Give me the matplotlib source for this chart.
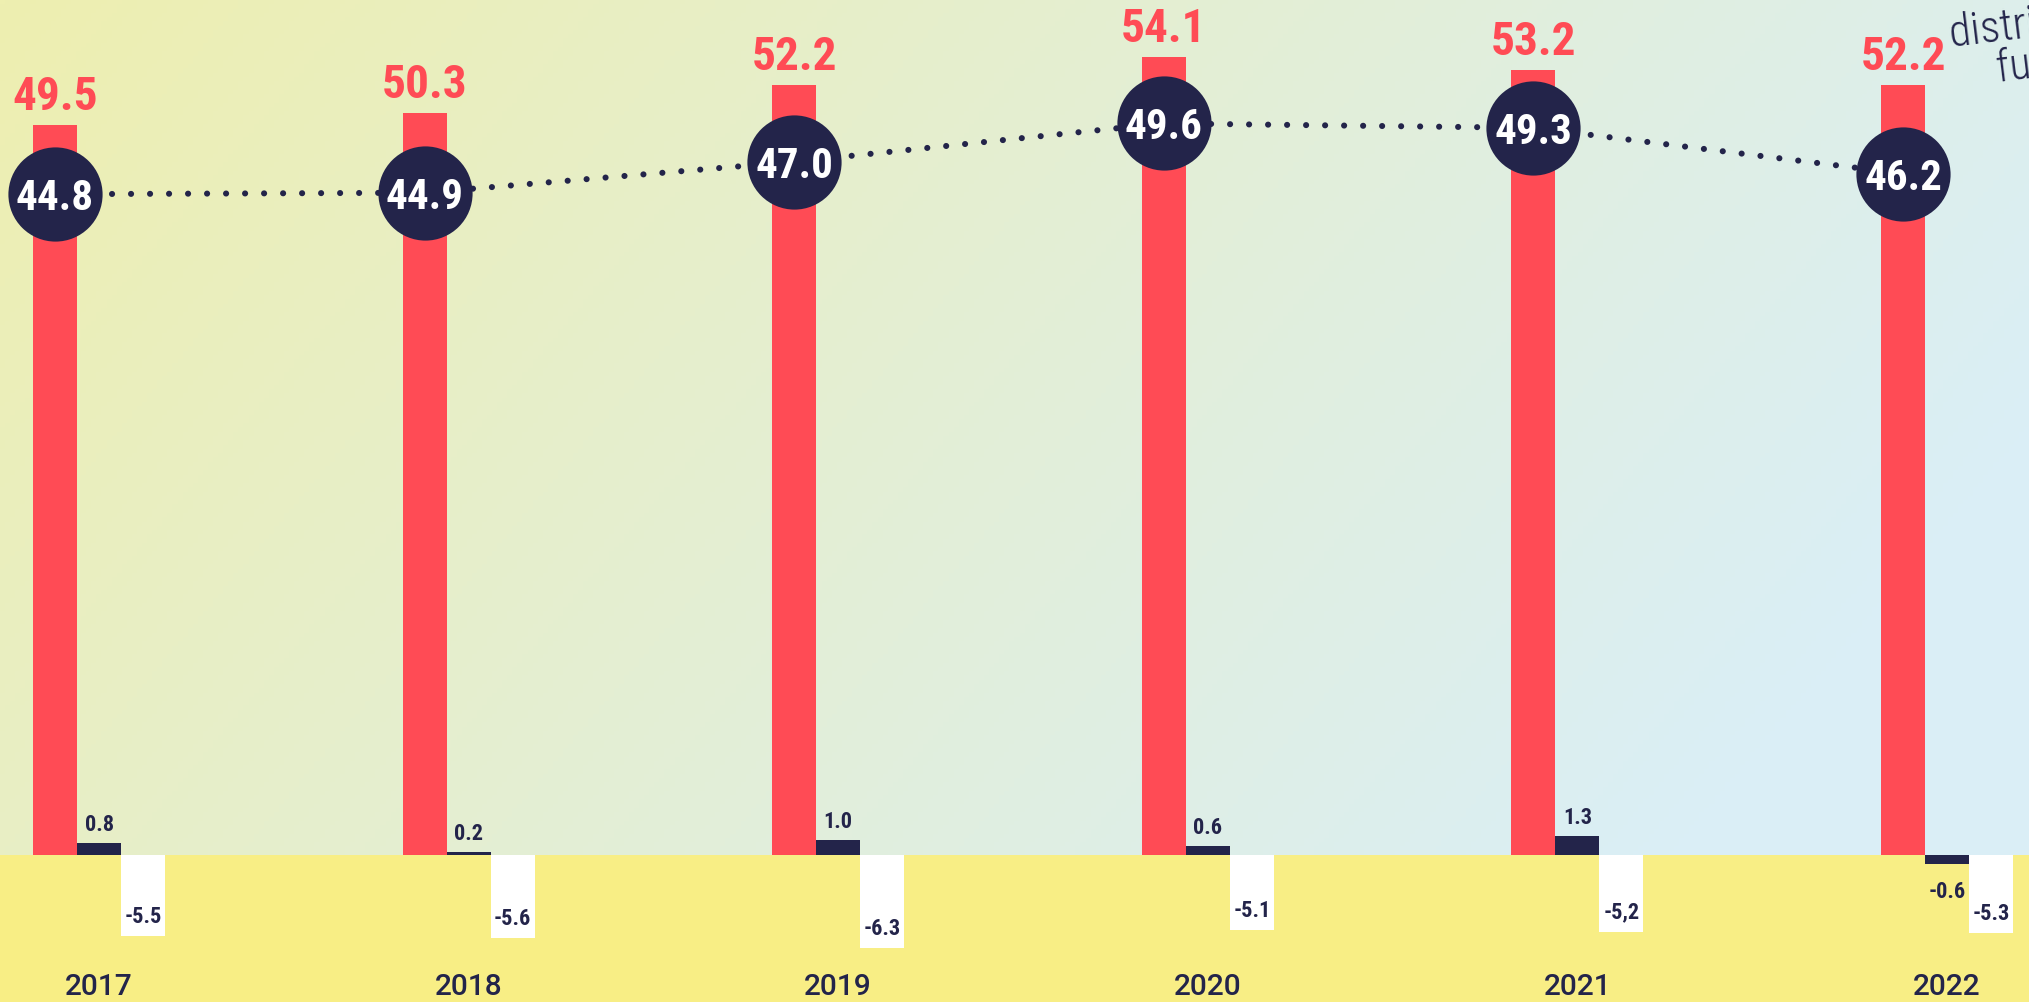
import numpy as np
import matplotlib
matplotlib.use("Agg")
import matplotlib.pyplot as plt
from matplotlib import font_manager

# данные с графика
years = ["2017", "2018", "2019", "2020", "2021", "2022"]
red_values = [49.5, 50.3, 52.2, 54.1, 53.2, 52.2]
circle_values = [44.8, 44.9, 47.0, 49.6, 49.3, 46.2]
dark_values = [0.8, 0.2, 1.0, 0.6, 1.3, -0.6]
white_values = [-5.5, -5.6, -6.3, -5.1, -5.2, -5.3]
white_labels = ["-5.5", "-5.6", "-6.3", "-5.1", "-5,2", "-5.3"]

RED = "#FF4B55"
NAVY = "#23244A"
YELLOW = "#F8EE85"


def pick_font(*candidates):
    names = {f.name for f in font_manager.fontManager.ttflist}
    for c in candidates:
        if c in names:
            return c
    return "DejaVu Sans"


COND = pick_font("Roboto Condensed", "Liberation Sans Narrow", "Roboto")
PLAIN = pick_font("Roboto", "DejaVu Sans")

W_PX, H_PX = 2029, 1002
fig = plt.figure(figsize=(W_PX / 100, H_PX / 100), dpi=100)
ax = fig.add_axes([0, 0, 1, 1])

px_x = 369.6          # пикселей на одну группу
px_y = 14.75          # пикселей на единицу
x0_px, base_px = 99, 855
xlim = (-x0_px / px_x, (W_PX - x0_px) / px_x)
ylim = (-(H_PX - base_px) / px_y, base_px / px_y)

x = np.arange(len(years))
w = 44 / px_x

# фон: градиент сверху, жёлтая полоса снизу
gx = np.linspace(0, 1, 400)
gy = np.linspace(0, 1, 200)
GX, GY = np.meshgrid(gx, gy)
t = np.clip(GX * 0.85 + GY * 0.3, 0, 1)[..., None]
c0 = np.array(matplotlib.colors.to_rgb("#EEEFB0"))
c1 = np.array(matplotlib.colors.to_rgb("#DAEEF6"))
grad = c0 * (1 - t) + c1 * t
ax.imshow(grad, extent=[xlim[0], xlim[1], 0, ylim[1]], aspect="auto",
          origin="upper", zorder=0)
ax.axhspan(ylim[0], 0, color=YELLOW, zorder=0.5, lw=0)

ax.bar(x - w, red_values, w, color=RED, zorder=2)
ax.bar(x, dark_values, w, color=NAVY, zorder=2)
ax.bar(x + w, white_values, w, color="white", zorder=2)

ax.plot(x - w, circle_values, color=NAVY, lw=4.4,
        linestyle=(0, (0.01, 3.1)), dash_capstyle="round", zorder=3)
ax.scatter(x - w, circle_values, s=4600, color=NAVY, zorder=4, lw=0)

for i in range(len(years)):
    ax.annotate(f"{red_values[i]:.1f}", (x[i] - w, red_values[i]),
                xytext=(0, 10.8), textcoords="offset points",
                ha="center", va="baseline", color=RED, fontsize=34,
                fontweight="bold", family=COND, zorder=5)
    ax.text(x[i] - w, circle_values[i], f"{circle_values[i]:.1f}",
            ha="center", va="center_baseline", color="white", fontsize=31,
            fontweight="bold", family=COND, zorder=5)
    if dark_values[i] >= 0:
        ax.annotate(f"{dark_values[i]:.1f}", (x[i], dark_values[i]),
                    xytext=(0, 8.6), textcoords="offset points",
                    ha="center", va="baseline", color=NAVY, fontsize=16,
                    fontweight="bold", family=COND, zorder=5)
    else:
        ax.annotate(f"{dark_values[i]:.1f}", (x[i], dark_values[i]),
                    xytext=(0, -24.5), textcoords="offset points",
                    ha="center", va="baseline", color=NAVY, fontsize=16,
                    fontweight="bold", family=COND, zorder=5)
    ax.annotate(white_labels[i], (x[i] + w, white_values[i]),
                xytext=(0, 9.4), textcoords="offset points",
                ha="center", va="baseline", color=NAVY, fontsize=16,
                fontweight="bold", family=COND, zorder=5)
    ax.text(x[i], -8.95, years[i], ha="center", va="center",
            color=NAVY, fontsize=21.5, fontweight="medium",
            family=PLAIN, zorder=5)

# обрезанная подпись справа сверху (как в оригинале)
ax.text(2072 / px_x + xlim[0], (base_px - 40) / px_y,
        "distribution of\nfunds for", ha="center", va="center",
        rotation=7, color=NAVY, fontsize=32, fontweight="light",
        family=COND, linespacing=0.95, zorder=5)

ax.set_xlim(*xlim)
ax.set_ylim(*ylim)
ax.axis("off")

fig.savefig("out.png", dpi=100)
